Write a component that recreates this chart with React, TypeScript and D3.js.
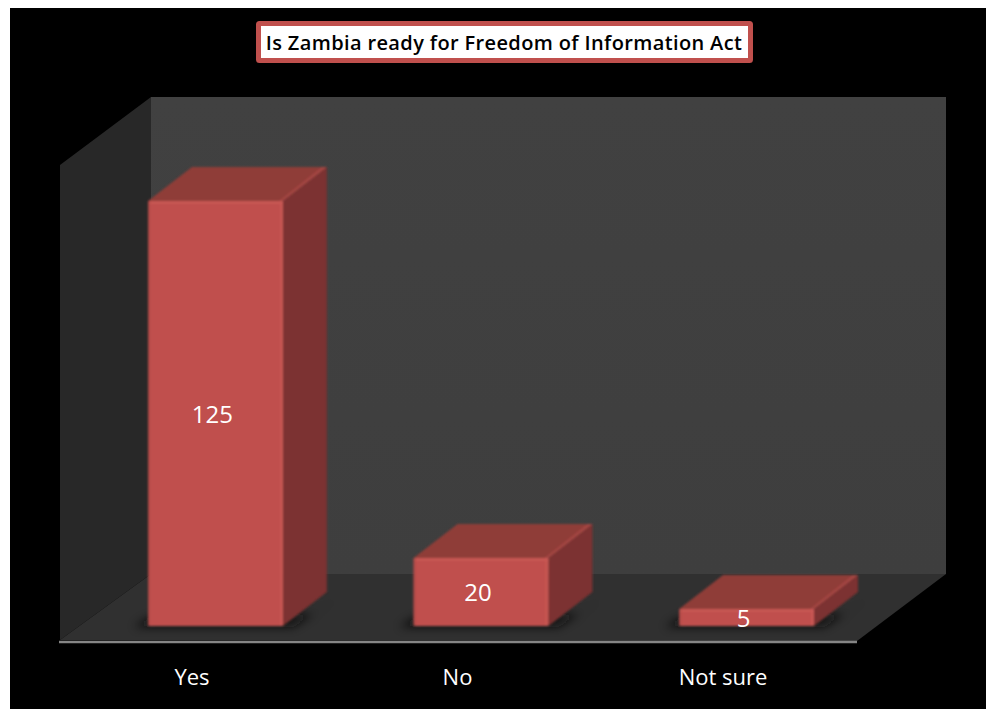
import React from "react";
import * as d3 from "d3";

const categories = ["Yes", "No", "Not sure"];
const values = [125, 20, 5];
const chartTitle = "Is Zambia ready for Freedom of Information Act";

const FONT = "'Open Sans', 'Noto Sans', sans-serif";
const W = 986, H = 709;
const baseY = 626;
const depthX = 44, depthY = 34;
const y = d3.scaleLinear().domain([0, 125]).range([baseY, 201]);
const x = d3.scaleBand().domain(categories).range([148, 814]).paddingInner(0.492).paddingOuter(0);
const pts = (p: number[][]) => p.map((q) => q.join(",")).join(" ");

export default function App() {
  return (
    <svg width={W} height={H} viewBox={`0 0 ${W} ${H}`}
      style={{ position: "absolute", left: 0, top: 0, background: "#fff" }}>
      <defs>
        <filter id="blur" x="-30%" y="-100%" width="160%" height="300%"><feGaussianBlur stdDeviation="5" /></filter>
        <filter id="soft" x="-5%" y="-5%" width="110%" height="110%"><feGaussianBlur stdDeviation="0.8" /></filter>
        <linearGradient id="wall" x1="0" y1="0" x2="0" y2="1">
          <stop offset="0" stopColor="#414141" />
          <stop offset="1" stopColor="#3e3e3e" />
        </linearGradient>
      </defs>
      <rect x={10} y={8} width={976} height={701} fill="#000" />
      <polygon points={pts([[151, 97], [946, 97], [946, 574], [151, 574]])} fill="url(#wall)" />
      <polygon points={pts([[60, 165], [151, 97], [151, 574], [60, 640]])} fill="#282828" />
      <polygon points={pts([[60, 640], [151, 574], [946, 574], [857, 641]])} fill="#303030" />
      <line x1={59} x2={857} y1={642} y2={642} stroke="#858585" strokeWidth={2.5} />

      {categories.map((c, i) => {
        const x0 = x(c)!, w = x.bandwidth(), top = y(values[i]);
        return (
          <g key={c}>
            <polygon points={pts([[x0 - 14, baseY + 1], [x0 + w + 10, baseY + 1], [x0 + w + depthX + 12, baseY - depthY + 6], [x0 + w + 30, baseY - 12], [x0, baseY - 8]])}
              fill="#111" opacity={0.8} filter="url(#blur)" />
            <g filter="url(#soft)">
              <polygon points={pts([[x0 + w, top], [x0 + w + depthX, top - depthY], [x0 + w + depthX, baseY - depthY], [x0 + w, baseY]])} fill="#7b3331" />
              <polygon points={pts([[x0, top], [x0 + depthX, top - depthY], [x0 + w + depthX, top - depthY], [x0 + w, top]])} fill="#8f3c39" />
              <polygon points={pts([[x0 + w, top], [x0 + w + depthX, top - depthY], [x0 + w + depthX - 5, top - depthY], [x0 + w - 4, top]])} fill="#ad4a47" opacity={0.7} />
              <rect x={x0} y={top} width={w} height={baseY - top} rx={2} fill="#c0504d" />
              <rect x={x0} y={top} width={w} height={3} rx={1} fill="#cb5a56" opacity={0.7} />
              <rect x={x0} y={top} width={2} height={baseY - top} fill="#a94643" opacity={0.7} />
              <rect x={x0 + w - 3} y={top} width={3} height={baseY - top} fill="#cb5a56" opacity={0.6} />
            </g>
            <text x={x0 + w / 2 - 3} y={(top + baseY) / 2 + 9} textAnchor="middle" fontFamily={FONT} fontSize={24} fill="#fff">{values[i]}</text>
            <text x={x0 + w / 2 - 23.5} y={685} textAnchor="middle" fontFamily={FONT} fontSize={22} fill="#fff">{c}</text>
          </g>
        );
      })}

      <rect x={258.5} y={23.5} width={492} height={37} rx={1} fill="#fff" stroke="#c0504d" strokeWidth={5} />
      <text x={504} y={50} textAnchor="middle" fontFamily={FONT} fontSize={20} fontWeight={600} letterSpacing={0.37} fill="#000">{chartTitle}</text>
    </svg>
  );
}
